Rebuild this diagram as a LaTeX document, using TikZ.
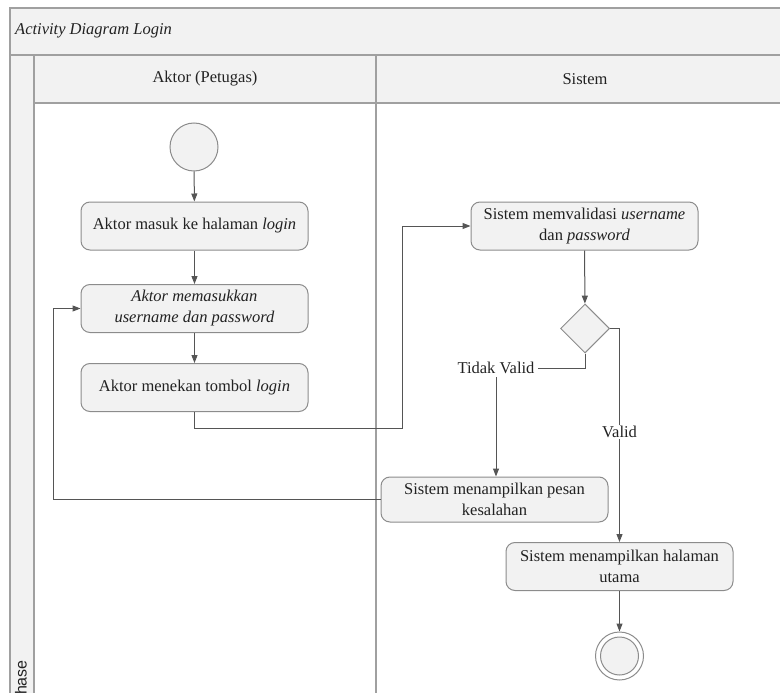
\documentclass[tikz,border=0pt]{standalone}
\usepackage{fontspec}
\setmainfont{Liberation Serif}
\newfontfamily\phasefont{Liberation Sans}
\usetikzlibrary{arrows.meta,shapes.geometric}
\definecolor{lanefill}{HTML}{F2F2F2}
\definecolor{frameline}{HTML}{A0A0A0}
\definecolor{boxline}{HTML}{8C8C8C}
\definecolor{flowline}{HTML}{555555}
\definecolor{txt}{HTML}{222222}
\begin{document}
\begin{tikzpicture}[x=1pt,y=-1pt,
  font=\fontsize{16.5}{21}\selectfont,
  actbox/.style={draw=boxline, fill=lanefill, rounded corners=9pt, line width=1pt,
    minimum width=227pt, minimum height=48pt, align=center, text=txt, inner sep=2pt},
  flow/.style={draw=flowline, line width=1pt, -{Triangle[length=8pt,width=6pt]}},
  plain/.style={draw=flowline, line width=1pt},
  frame/.style={draw=frameline, line width=1.3pt},
  lbl/.style={text=txt, inner sep=2pt}]
\useasboundingbox (0,0) rectangle (780,693);
\clip (0,0) rectangle (780,693);
% swimlane frame
\fill[lanefill] (10,8) rectangle (790,55);
\fill[lanefill] (34,55) rectangle (790,103);
\fill[lanefill] (10,55) rectangle (34,700);
\draw[frame] (790,8) -- (10,8) -- (10,700);
\draw[frame] (10,55) -- (790,55);
\draw[frame] (34,55) -- (34,700);
\draw[frame] (34,103) -- (790,103);
\draw[frame] (376,55) -- (376,700);
\node[lbl, anchor=west, font=\fontsize{16.5}{21}\selectfont\itshape] (title) at (13,31) {Activity Diagram Login};
\node[lbl] (lane1) at (205,79) {Aktor (Petugas)};
\node[lbl] (lane2) at (585,79) {Sistem};
\node[lbl, rotate=90, anchor=east, font=\phasefont\fontsize{16}{19}\selectfont] (phase) at (21,658) {Phase};
% nodes
\node[circle, draw=boxline, fill=lanefill, line width=1pt, minimum size=48pt, inner sep=0pt] (start) at (194,147) {};
\node[actbox] (b1) at (194.5,226) {Aktor masuk ke halaman \textit{login}};
\node[actbox] (b2) at (194.5,308.5) {\textit{Aktor memasukkan}\\\textit{username dan password}};
\node[actbox] (b3) at (194.5,387.5) {Aktor menekan tombol \textit{login}};
\node[actbox] (b4) at (584.5,226) {Sistem memvalidasi \textit{username}\\dan \textit{password}};
\node[diamond, draw=boxline, fill=lanefill, line width=1pt, minimum width=49pt, minimum height=49pt, inner sep=0pt] (dia) at (585,328.5) {};
\node[lbl, inner sep=3pt] (tv) at (496,368) {Tidak Valid};
\node[actbox, minimum height=45pt] (b5) at (494.5,499.5) {Sistem menampilkan pesan\\kesalahan};
\node[actbox] (b6) at (619.5,566.5) {Sistem menampilkan halaman\\utama};
\node[circle, draw=boxline, fill=white, line width=1pt, minimum size=48pt, inner sep=0pt] (end) at (619.5,656) {};
\node[circle, draw=boxline, fill=lanefill, line width=1pt, minimum size=38pt, inner sep=0pt] (endin) at (end.center) {};
\coordinate (c1) at (402,428);
\coordinate (c2) at (53,499.5);
% connectors
\draw[flow] (start) -- (b1);
\draw[flow] (b1) -- (b2);
\draw[flow] (b2) -- (b3);
\draw[flow] (b3.south) |- (c1) |- (b4.west);
\draw[flow] (b4) -- (dia);
\draw[plain] (dia.south) |- (tv.east);
\draw[flow] (tv.south) -- (tv.south |- b5.north);
\draw[flow] (dia.east) -| (b6.north);
\node[lbl, fill=white, inner sep=1pt] (valid) at (619.5,432) {Valid};
\draw[flow] (b5.west) -- (c2) |- (b2.west);
\draw[flow] (b6) -- (end);
\end{tikzpicture}
\end{document}
